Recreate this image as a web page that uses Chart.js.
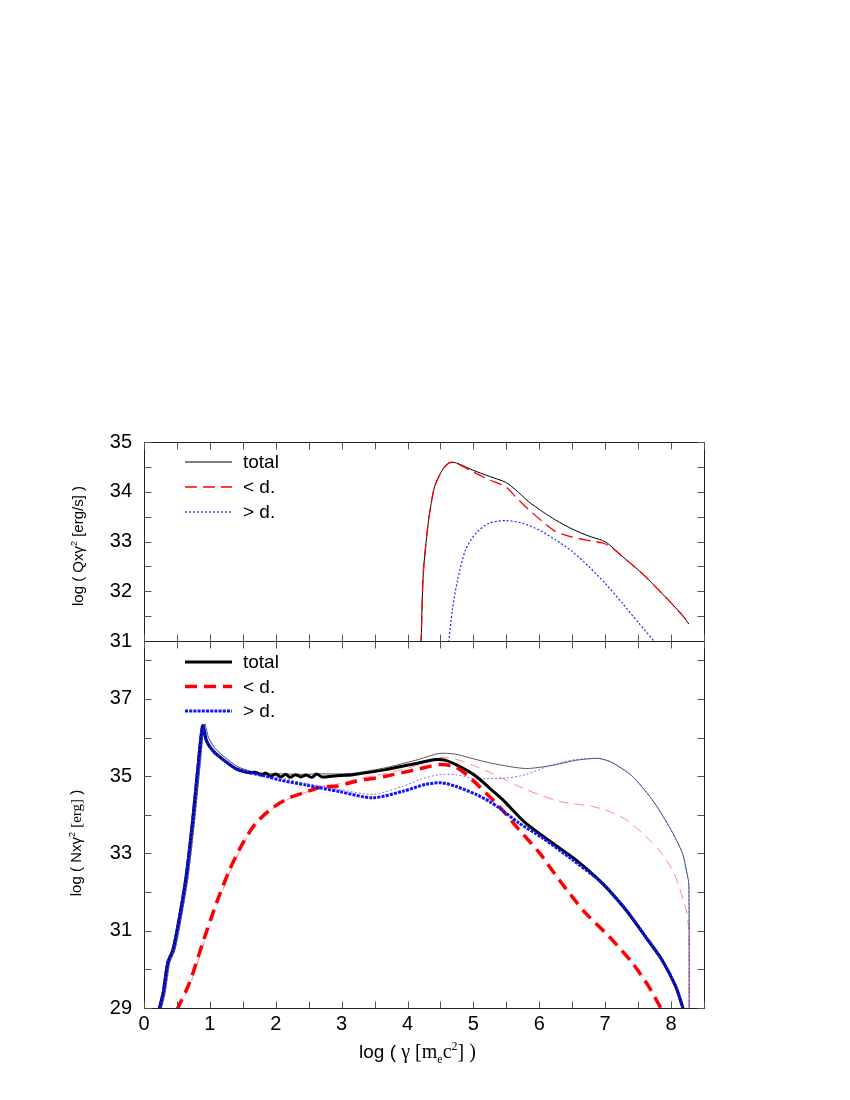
<!DOCTYPE html>
<html><head><meta charset="utf-8">
<script src="https://cdn.jsdelivr.net/npm/chart.js@4/dist/chart.umd.min.js"></script>
<style>
html,body{margin:0;padding:0;background:#fff;}
#wrap{position:relative;width:850px;height:1100px;overflow:hidden;}
canvas{position:absolute;left:0;top:0;}
.lab{position:absolute;font-family:'Liberation Sans',Arial,sans-serif;color:#000;white-space:nowrap;line-height:1;}
.serif{font-family:'Liberation Serif','Times New Roman',serif;}
.rot{transform:translate(-50%,-50%) rotate(-90deg);}
sup,sub{font-size:60%;line-height:0;}
</style></head><body>
<div id="wrap">
<canvas id="c1" width="850" height="1100"></canvas>
<canvas id="c2" width="850" height="1100"></canvas>
<div class="lab rot" style="left:77px;top:546px;font-size:15px;">log ( Qxγ<sup>2</sup> [erg/s] )</div>
<div class="lab rot" style="left:76px;top:843px;font-size:15px;">log ( Nxγ<sup>2</sup> <span class="serif">[erg]</span> )</div>
<div class="lab" style="left:359px;top:1041px;font-size:19px;">log ( <span class="serif" style="font-size:20px">γ [m<sub>e</sub>c<sup>2</sup>] )</span></div>
</div>
<script>
// ---------- tick labels ----------
const xTicks = [0,1,2,3,4,5,6,7,8];
const qTicks = [31,32,33,34,35];
const nTicks = [29,31,33,35,37];

// ---------- top panel: log(Q x gamma^2) ----------
const qTotalX = [4.205,4.23,4.25,4.32,4.41,4.53,4.63,4.71,4.85,4.98,5.24,5.49,5.64,5.84,6.05,6.25,6.5,6.75,6.96,7.05,7.26,7.56,7.86,8.17,8.27];
const qTotalY = [30.9,32.09,32.56,33.43,34.10,34.44,34.58,34.59,34.52,34.44,34.31,34.19,34.04,33.80,33.60,33.43,33.25,33.11,33.02,32.95,32.70,32.36,31.96,31.52,31.34];
const qBelowX = [4.205,4.23,4.25,4.32,4.41,4.53,4.63,4.71,4.85,4.98,5.24,5.49,5.64,5.84,6.05,6.25,6.5,6.75,6.96,7.1,7.26,7.56,7.86,8.17,8.27];
const qBelowY = [30.9,32.09,32.56,33.43,34.10,34.44,34.58,34.59,34.50,34.41,34.24,34.10,33.90,33.64,33.40,33.20,33.09,33.02,32.97,32.88,32.70,32.36,31.96,31.52,31.34];
const qAboveX = [4.62,4.68,4.76,4.88,5.04,5.24,5.49,5.74,6.0,6.25,6.5,6.75,7.0,7.26,7.51,7.74];
const qAboveY = [30.9,31.62,32.23,32.83,33.17,33.37,33.42,33.37,33.23,33.03,32.80,32.50,32.16,31.76,31.36,31.0];

// ---------- bottom panel: log(N x gamma^2), thick curves ----------
const nTotalX = [0.22,0.29,0.36,0.44,0.54,0.64,0.74,0.82,0.89,0.95,1.05,1.20,1.40,1.60,1.70,1.78,1.85,1.92,2.0,2.08,2.15,2.22,2.3,2.38,2.46,2.55,2.62,2.7,2.85,3.0,3.17,3.67,4.18,4.43,4.58,4.78,5.04,5.24,5.44,5.79,6.20,6.55,6.95,7.31,7.61,7.86,8.07,8.19];
const nTotalY = [28.9,29.39,30.17,30.51,31.37,32.41,33.88,35.26,36.30,35.91,35.65,35.43,35.19,35.09,35.10,35.03,35.08,35.00,35.06,34.98,35.05,34.97,35.04,34.98,35.03,34.97,35.06,34.98,35.00,35.02,35.04,35.17,35.35,35.43,35.41,35.26,35.00,34.70,34.40,33.79,33.27,32.84,32.24,31.55,30.85,30.25,29.56,28.95];
const nBelowX = [0.5,0.69,0.89,1.10,1.30,1.50,1.70,1.95,2.21,2.46,2.71,2.92,3.22,3.67,4.18,4.48,4.73,4.98,5.24,5.39,5.69,6.0,6.30,6.70,7.06,7.41,7.66,7.86];
const nBelowY = [28.95,29.65,30.68,31.72,32.58,33.27,33.79,34.18,34.44,34.59,34.73,34.74,34.87,35.0,35.19,35.30,35.24,34.91,34.48,34.22,33.62,33.02,32.32,31.46,30.85,30.17,29.56,28.95];
const nAboveX = [0.22,0.29,0.36,0.44,0.54,0.64,0.74,0.82,0.89,0.95,1.05,1.20,1.40,1.60,1.85,2.06,2.46,2.97,3.47,3.93,4.28,4.51,4.73,5.04,5.24,5.39,5.69,6.05,6.5,6.95,7.31,7.61,7.86,8.07,8.19];
const nAboveY = [28.9,29.39,30.17,30.51,31.37,32.41,33.88,35.26,36.30,35.91,35.65,35.43,35.19,35.09,35.0,34.90,34.77,34.60,34.44,34.61,34.79,34.83,34.74,34.53,34.35,34.18,33.79,33.40,32.84,32.24,31.55,30.85,30.25,29.56,28.95];

// ---------- bottom panel: thin curves ----------
const nTotal2X = [0.25,0.32,0.39,0.47,0.57,0.67,0.77,0.85,0.92,0.98,1.08,1.22,1.42,1.62,1.85,2.1,2.4,2.7,3.0,3.2,3.67,4.18,4.48,4.73,5.0,5.29,5.79,6.20,6.55,6.90,7.11,7.41,7.71,7.97,8.17,8.24,8.27,8.275];
const nTotal2Y = [28.9,29.39,30.17,30.51,31.37,32.41,33.88,35.26,36.35,36.0,35.72,35.50,35.25,35.13,35.07,35.06,35.05,35.06,35.06,35.08,35.22,35.44,35.59,35.57,35.45,35.33,35.20,35.28,35.41,35.46,35.35,35.0,34.40,33.70,33.02,32.50,32.2,28.9];
const nBelow2X = [0.52,0.71,0.91,1.12,1.32,1.52,1.72,1.97,2.23,2.48,2.73,2.95,3.22,3.67,4.18,4.48,4.73,5.0,5.26,5.79,6.30,6.80,7.06,7.31,7.56,7.81,8.02,8.12,8.24,8.27,8.275];
const nBelow2Y = [28.95,29.65,30.68,31.72,32.58,33.27,33.79,34.18,34.44,34.60,34.75,34.80,34.92,35.07,35.30,35.48,35.44,35.28,35.09,34.66,34.35,34.22,34.09,33.88,33.53,33.10,32.58,32.15,31.46,30.9,28.9];
const nAbove2X = [0.25,0.32,0.39,0.47,0.57,0.67,0.77,0.85,0.92,0.98,1.08,1.22,1.42,1.62,1.85,2.1,2.41,2.9,3.47,3.93,4.2,4.48,4.73,5.04,5.3,5.54,5.79,6.20,6.55,6.90,7.11,7.41,7.71,7.97,8.17,8.24,8.27,8.275];
const nAbove2Y = [28.9,29.39,30.17,30.51,31.37,32.41,33.88,35.26,36.35,36.0,35.72,35.50,35.25,35.13,35.03,34.95,34.83,34.68,34.53,34.74,34.92,35.04,35.04,34.93,34.94,34.96,35.04,35.30,35.43,35.46,35.35,35.0,34.40,33.70,33.02,32.50,32.2,28.9];

const FONT = "'Liberation Sans', Arial, sans-serif";
const pts = (xs, ys) => xs.map((x, i) => ({x: x, y: ys[i]}));

const framePlugin = {
  id: 'frame',
  afterDatasetsDraw(chart, args, o) {
    const {ctx, chartArea: a, scales: {x, y}} = chart;
    ctx.save();
    ctx.strokeStyle = '#222';
    ctx.lineWidth = 1;
    const L = Math.round(a.left) + 0.5, R = Math.round(a.right) + 0.5;
    const T = Math.round(a.top) + 0.5, B = Math.round(a.bottom) + 0.5;
    ctx.strokeRect(L, T, R - L, B - T);
    ctx.strokeStyle = '#555';
    ctx.beginPath();
    for (let v = x.min; v <= x.max + 1e-9; v += o.xStep) {
      const p = Math.round(x.getPixelForValue(v)) + 0.5;
      ctx.moveTo(p, B); ctx.lineTo(p, B - o.len);
      ctx.moveTo(p, T); ctx.lineTo(p, T + o.len);
    }
    for (let v = y.min; v <= y.max + 1e-9; v += o.yStep) {
      const p = Math.round(y.getPixelForValue(v)) + 0.5;
      ctx.moveTo(L, p); ctx.lineTo(L + o.len, p);
      ctx.moveTo(R, p); ctx.lineTo(R - o.len, p);
    }
    ctx.stroke();
    ctx.restore();
  }
};

const keyPlugin = {
  id: 'key',
  afterDatasetsDraw(chart, args, o) {
    const ctx = chart.ctx;
    ctx.save();
    o.labels.forEach((lab, i) => {
      const ds = chart.data.datasets.find(d => d.label === lab);
      const yy = o.y0 + i * o.dy;
      ctx.beginPath();
      ctx.strokeStyle = ds.borderColor;
      ctx.lineWidth = ds.borderWidth;
      ctx.setLineDash(ds.borderDash || []);
      ctx.moveTo(o.x0, yy); ctx.lineTo(o.x1, yy);
      ctx.stroke();
      ctx.setLineDash([]);
      ctx.fillStyle = '#000';
      ctx.font = o.size + 'px ' + FONT;
      ctx.textBaseline = 'middle';
      ctx.textAlign = 'left';
      ctx.fillText(lab, o.tx, yy + 1);
    });
    ctx.restore();
  }
};

// lower "order" is drawn on top
function line(label, xs, ys, color, width, dash, order) {
  return {label: label, data: pts(xs, ys), borderColor: color, borderWidth: width,
          borderDash: dash, pointRadius: 0, tension: 0.25, fill: false, order: order};
}

const yCommon = (ticks) => ({
  type: 'linear',
  afterFit(s) { s.width = 144; },
  afterBuildTicks(s) { s.ticks = ticks.map(v => ({value: v})); },
  grid: {display: false, drawTicks: false},
  border: {display: false},
  ticks: {padding: 12, color: '#000', font: {family: FONT, size: 20}}
});

new Chart(document.getElementById('c1'), {
  type: 'line',
  data: {datasets: [
    line('total', qTotalX, qTotalY, '#000000', 1, [], 2),
    line('< d.', qBelowX, qBelowY, '#ff0000', 1.3, [12, 6], 1),
    line('> d.', qAboveX, qAboveY, '#2020ff', 1.2, [2, 2], 0)
  ]},
  options: {
    responsive: false, animation: false,
    layout: {padding: {left: 0, right: 146, top: 442, bottom: 459}},
    scales: {
      x: {type: 'linear', min: 0, max: 8.5, display: false},
      y: Object.assign(yCommon(qTicks), {min: 31, max: 35})
    },
    plugins: {
      legend: {display: false}, tooltip: {enabled: false},
      frame: {xStep: 0.5, yStep: 0.5, len: 7},
      key: {labels: ['total', '< d.', '> d.'], x0: 185, x1: 232, tx: 243, y0: 462, dy: 25, size: 19}
    }
  },
  plugins: [framePlugin, keyPlugin]
});

new Chart(document.getElementById('c2'), {
  type: 'line',
  data: {datasets: [
    line('total', nTotalX, nTotalY, '#000000', 3, [], 2),
    line('> d.', nAboveX, nAboveY, '#0a14ff', 3, [3, 1.2], 0),
    line('< d.', nBelowX, nBelowY, '#ff0000', 3.5, [12, 7], 1),
    line('total (thin)', nTotal2X, nTotal2Y, 'rgba(0,0,0,0.65)', 1, [], 5),
    line('< d. (thin)', nBelow2X, nBelow2Y, 'rgba(255,60,60,0.6)', 1, [10, 6], 4),
    line('> d. (thin)', nAbove2X, nAbove2Y, 'rgba(60,60,255,0.7)', 1, [2, 2], 3)
  ]},
  options: {
    responsive: false, animation: false,
    layout: {padding: {left: 0, right: 146, top: 641, bottom: 52}},
    scales: {
      x: {
        type: 'linear', min: 0, max: 8.5,
        afterFit(s) { s.height = 40; },
        afterBuildTicks(s) { s.ticks = xTicks.map(v => ({value: v})); },
        grid: {display: false, drawTicks: false},
        border: {display: false},
        ticks: {padding: 4, color: '#000', autoSkip: false, maxRotation: 0, font: {family: FONT, size: 20}}
      },
      y: Object.assign(yCommon(nTicks), {min: 29, max: 38.5})
    },
    plugins: {
      legend: {display: false}, tooltip: {enabled: false},
      frame: {xStep: 0.5, yStep: 1, len: 7},
      key: {labels: ['total', '< d.', '> d.'], x0: 185, x1: 232, tx: 243, y0: 662, dy: 24.5, size: 19}
    }
  },
  plugins: [framePlugin, keyPlugin]
});
</script>
</body></html>
